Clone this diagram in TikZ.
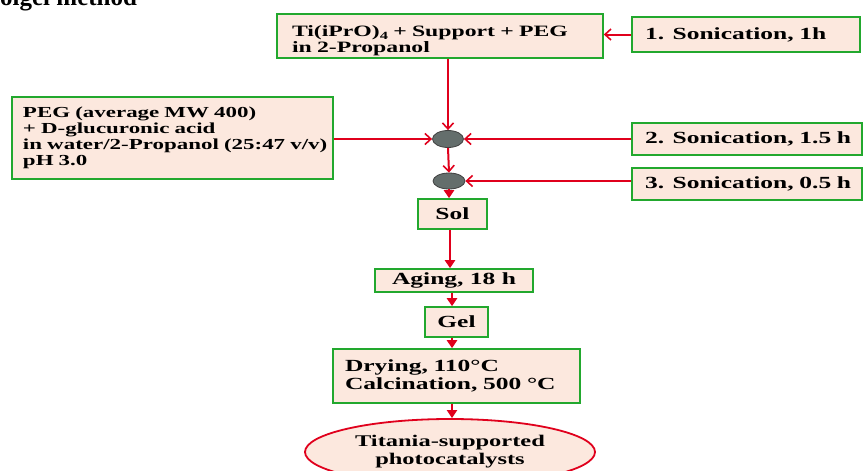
\documentclass[tikz,border=0pt]{standalone}
\usepackage{fontspec}
\setmainfont{Liberation Serif}[FakeStretch=1.5]
\newfontfamily\titlefont{Liberation Serif}
\usetikzlibrary{arrows.meta,shapes.geometric}
\definecolor{boxgreen}{RGB}{34,168,46}
\definecolor{boxfill}{RGB}{252,232,222}
\definecolor{flowred}{RGB}{224,0,28}
\definecolor{mixgray}{RGB}{100,110,108}
\newcommand{\subfour}{\raisebox{-3pt}{\fontsize{11}{11}\selectfont 4}}
\tikzset{
  stagebox/.style={draw=boxgreen,fill=boxfill,line width=1.6pt,align=left,
    font=\bfseries\fontsize{17}{18}\selectfont},
  mixer/.style={ellipse,draw=black!75,fill=mixgray,line width=0.8pt,inner sep=0pt},
  flow/.style={draw=flowred,line width=2pt,-{Straight Barb[length=6pt,width=11pt,line width=1.6pt]}},
  flowdown/.style={draw=flowred,line width=2pt,-{Triangle[length=8pt,width=10pt]}}
}
\begin{document}
\begin{tikzpicture}[x=1pt,y=-1pt]
\useasboundingbox (0,0) rectangle (865,471);
\node[anchor=base west,inner sep=0pt,font=\titlefont\bfseries\fontsize{25}{25}\selectfont] (title) at (0,5.5) {olgel method};
% boxes
\node[stagebox,inner xsep=15pt,text width=296pt,inner ysep=2pt,text height=20pt,text depth=20pt,
  font=\bfseries\fontsize{15.8}{17}\selectfont] (top) at (440,36)
  {\mbox{Ti(iPrO)\subfour{} + Support + PEG}\\in 2-Propanol};
\node[stagebox,inner xsep=13pt,text width=202pt,minimum height=35pt] (son1) at (746,34.5) {\mbox{1. Sonication, 1h}};
\node[stagebox,inner xsep=11pt,text width=299pt,minimum height=82pt,
  font=\bfseries\fontsize{15.3}{16}\selectfont] (peg) at (172.5,138)
  {\mbox{PEG (average MW 400)}\\\mbox{+ D-glucuronic acid}\\\mbox{in water/2-Propanol (25:47 v/v)}\\pH 3.0};
\node[stagebox,inner xsep=13pt,text width=204pt,minimum height=32pt] (son2) at (747,139) {\mbox{2. Sonication, 1.5 h}};
\node[stagebox,inner xsep=13pt,text width=204pt,minimum height=32pt] (son3) at (747,184) {\mbox{3. Sonication, 0.5 h}};
\node[mixer,minimum width=31pt,minimum height=17pt] (mixA) at (448,139) {};
\node[mixer,minimum width=32pt,minimum height=16pt] (mixB) at (449,181) {};
\node[stagebox,align=center,minimum width=69pt,minimum height=30pt] (sol) at (452.5,214) {Sol};
\node[stagebox,align=center,minimum width=158pt,minimum height=23pt,inner ysep=1pt] (aging) at (454,280.5) {Aging, 18 h};
\node[stagebox,align=center,minimum width=63pt,minimum height=30pt] (gel) at (456.5,322) {Gel};
\node[stagebox,inner xsep=12pt,text width=223pt,minimum height=54pt] (dry) at (456.5,376)
  {Drying, 110°C\\\mbox{Calcination, 500 °C}};
\node[ellipse,draw=flowred,fill=boxfill,line width=1.8pt,align=center,
  minimum width=290pt,minimum height=66pt,inner sep=0pt,
  font=\bfseries\fontsize{16.3}{18}\selectfont] (prod) at (450,452)
  {Titania-supported\\photocatalysts};
% connectors
\draw[flow] (son1.west) -- (son1.west -| top.east);
\draw[flow] (mixA |- top.south) -- (mixA.north);
\draw[flow] (peg.east |- mixA) -- (mixA.west);
\draw[flow] (son2.west) -- (mixA.east);
\draw[flow] (mixA.south) -- (mixB.north);
\draw[flow] (son3.west |- mixB) -- (mixB.east);
\draw[flowdown] (mixB.south) -- (mixB.south |- sol.north);
\draw[flowdown] (sol.south -| 450,0) -- (aging.north -| 450,0);
\draw[flowdown] (aging.south -| 452,0) -- (gel.north -| 452,0);
\draw[flowdown] (gel.south -| 452,0) -- (dry.north -| 452,0);
\draw[flowdown] (dry.south -| 452,0) -- (prod.north -| 452,0);
\end{tikzpicture}
\end{document}
